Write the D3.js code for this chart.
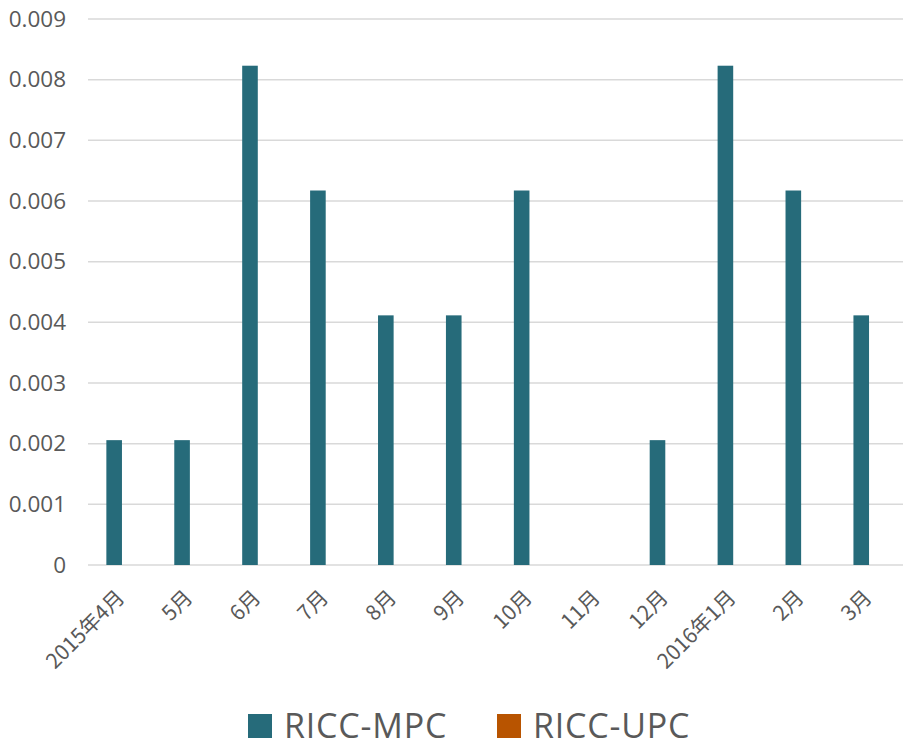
<!DOCTYPE html>
<html>
<head>
<meta charset="utf-8">
<script src="https://cdn.jsdelivr.net/npm/d3@7"></script>
<style>
  html, body { margin: 0; padding: 0; background: #fff; }
  svg { display: block; }
</style>
</head>
<body>
<svg id="chart" width="903" height="748"></svg>
<script>
// Monthly figures, April 2015 – March 2016
const categories = ["2015年4月", "5月", "6月", "7月", "8月", "9月", "10月", "11月", "12月", "2016年1月", "2月", "3月"];
const seriesNames = ["RICC-MPC", "RICC-UPC"];
const mpcValues = [0.002058, 0.002058, 0.008230, 0.006173, 0.004115, 0.004115, 0.006173, 0, 0.002058, 0.008230, 0.006173, 0.004115];
const upcValues = [0, 0, 0, 0, 0, 0, 0, 0, 0, 0, 0, 0];
const yTicks = [0, 0.001, 0.002, 0.003, 0.004, 0.005, 0.006, 0.007, 0.008, 0.009];
const colors = ["#266b7a", "#b85400"];

const svg = d3.select("#chart");
const margin = { left: 88, right: 0, top: 19, bottom: 183 };
const W = 903, H = 748;
const plotW = W - margin.left - margin.right;
const plotH = H - margin.top - margin.bottom;

const g = svg.append("g").attr("transform", `translate(${margin.left},${margin.top})`);

const x = d3.scaleBand().domain(categories).range([0, plotW]);
const y = d3.scaleLinear().domain([0, 0.009]).range([plotH, 0]);
const barW = 15.6;

// Horizontal gridlines
g.append("g")
  .selectAll("line")
  .data(yTicks)
  .join("line")
  .attr("x1", 0).attr("x2", plotW)
  .attr("y1", d => y(d)).attr("y2", d => y(d))
  .attr("stroke", "#d9d9d9")
  .attr("stroke-width", 1.5);

// Y axis labels
const yAxis = d3.axisLeft(y).tickValues(yTicks).tickSize(0).tickPadding(22)
  .tickFormat(d => d === 0 ? "0" : d3.format(".3f")(d));
const ya = g.append("g").call(yAxis);
ya.select(".domain").remove();
ya.selectAll("text")
  .attr("fill", "#595959")
  .attr("font-family", "'Open Sans', sans-serif")
  .attr("font-size", "22.5px");

// Bars: two series per month, side by side
const series = [mpcValues, upcValues];
series.forEach((vals, si) => {
  g.append("g")
    .selectAll("rect")
    .data(vals)
    .join("rect")
    .attr("x", (d, i) => x(categories[i]) + x.bandwidth() / 2 - barW + si * barW)
    .attr("width", barW)
    .attr("y", d => y(d))
    .attr("height", d => y(0) - y(d))
    .attr("fill", colors[si]);
});

// X axis labels, rotated
const xAxis = d3.axisBottom(x).tickSize(0).tickPadding(0);
const xa = g.append("g").attr("transform", `translate(0,${plotH})`).call(xAxis);
xa.select(".domain").remove();
xa.selectAll("text")
  .attr("fill", "#595959")
  .attr("font-family", "'Noto Sans CJK JP', 'Open Sans', sans-serif")
  .attr("font-size", "21px")
  .attr("text-anchor", "end")
  .attr("dy", null)
  .attr("transform", "translate(4,34) rotate(-45)");

// Legend
const legend = svg.append("g").attr("transform", "translate(248,714)");
const legendX = [0, 249];
seriesNames.forEach((name, i) => {
  const lg = legend.append("g").attr("transform", `translate(${legendX[i]},0)`);
  lg.append("rect").attr("width", 24).attr("height", 24).attr("fill", colors[i]);
  lg.append("text")
    .attr("x", 36).attr("y", 24)
    .attr("fill", "#595959")
    .attr("font-family", "'Open Sans', sans-serif")
    .attr("font-size", "34px")
    .attr("letter-spacing", "0.8px")
    .text(name);
});
</script>
</body>
</html>
